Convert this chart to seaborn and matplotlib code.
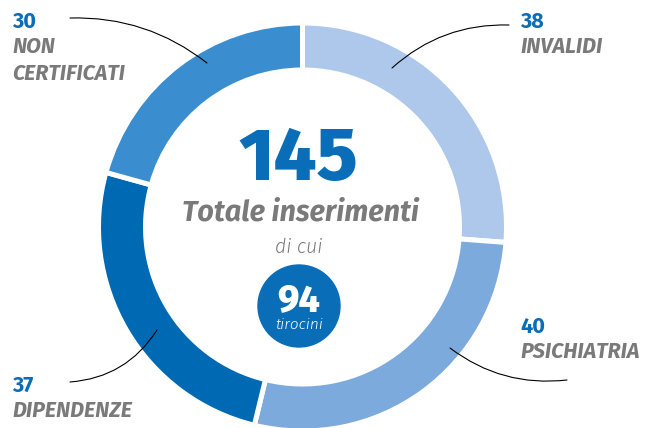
import matplotlib.pyplot as plt
import seaborn as sns
from matplotlib.patches import Circle

sns.set_theme(style="white")
plt.rcParams["font.family"] = ["Fira Sans", "DejaVu Sans"]

# --- dati ---
categorie = ["INVALIDI", "PSICHIATRIA", "DIPENDENZE", "NON\nCERTIFICATI"]
valori = [38, 40, 37, 30]
colori = ["#adc8ea", "#7daadc", "#0069b4", "#3a8ecf"]
tirocini = 94
totale = sum(valori)

BLU = "#0a6db8"
GRIGIO = "#7a7a7a"

fig = plt.figure(figsize=(6.47, 4.28), dpi=100)
ax = fig.add_axes([0, 0, 1, 1])

# ciambella (coordinate in pixel, y verso l'alto)
cx, cy, R = 302.5, 201, 204
ax.pie(valori, colors=colori, startangle=90, counterclock=False,
       radius=R, center=(cx, cy),
       wedgeprops=dict(width=47, edgecolor="white", linewidth=3.6))
ax.set_xlim(0, 647)
ax.set_ylim(0, 428)
ax.set_aspect("equal")
ax.axis("off")

# testo centrale
ax.text(298, 248, str(totale), ha="center", va="baseline", fontsize=54,
        fontweight=800, color=BLU)
ax.text(300, 208, "Totale inserimenti", ha="center", va="baseline", fontsize=20.8,
        fontweight="bold", fontstyle="italic", color=GRIGIO)
ax.text(299, 175, "di cui", ha="center", va="baseline", fontsize=14,
        fontweight=300, fontstyle="italic", color=GRIGIO)
ax.add_patch(Circle((299, 122), 41, color=BLU, zorder=3))
ax.text(299, 117, str(tirocini), ha="center", va="baseline", fontsize=27,
        fontweight=800, color="white", zorder=4)
ax.text(299, 99, "tirocini", ha="center", va="baseline", fontsize=11,
        fontweight=300, fontstyle="italic", color="white", zorder=4)

# etichette esterne: (x testo, y baseline numero, inizio linea, fine linea, curvatura)
etichette = [
    (520, 400, (509, 403), (392, 360), 0.2),
    (520, 95, (567, 48), (450, 80), -0.2),
    (12, 36, (70, 46), (157, 98), 0.25),
    (12, 400, (70, 410), (207, 365), -0.18),
]
for nome, val, (tx, ty, a, b, rad) in zip(categorie, valori, etichette):
    ax.text(tx, ty, str(val), ha="left", va="baseline", fontsize=15.5,
            fontweight="bold", color=BLU)
    for i, riga in enumerate(nome.split("\n")):
        ax.text(tx, ty - 25 - 27 * i, riga, ha="left", va="baseline",
                fontsize=15.5, fontweight="bold", fontstyle="italic", color=GRIGIO)
    ax.annotate("", xy=b, xytext=a,
                arrowprops=dict(arrowstyle="-", color="black", lw=0.8,
                                shrinkA=0, shrinkB=0,
                                connectionstyle=f"arc3,rad={rad}"),
                zorder=5)

fig.savefig("out.png", dpi=100)
